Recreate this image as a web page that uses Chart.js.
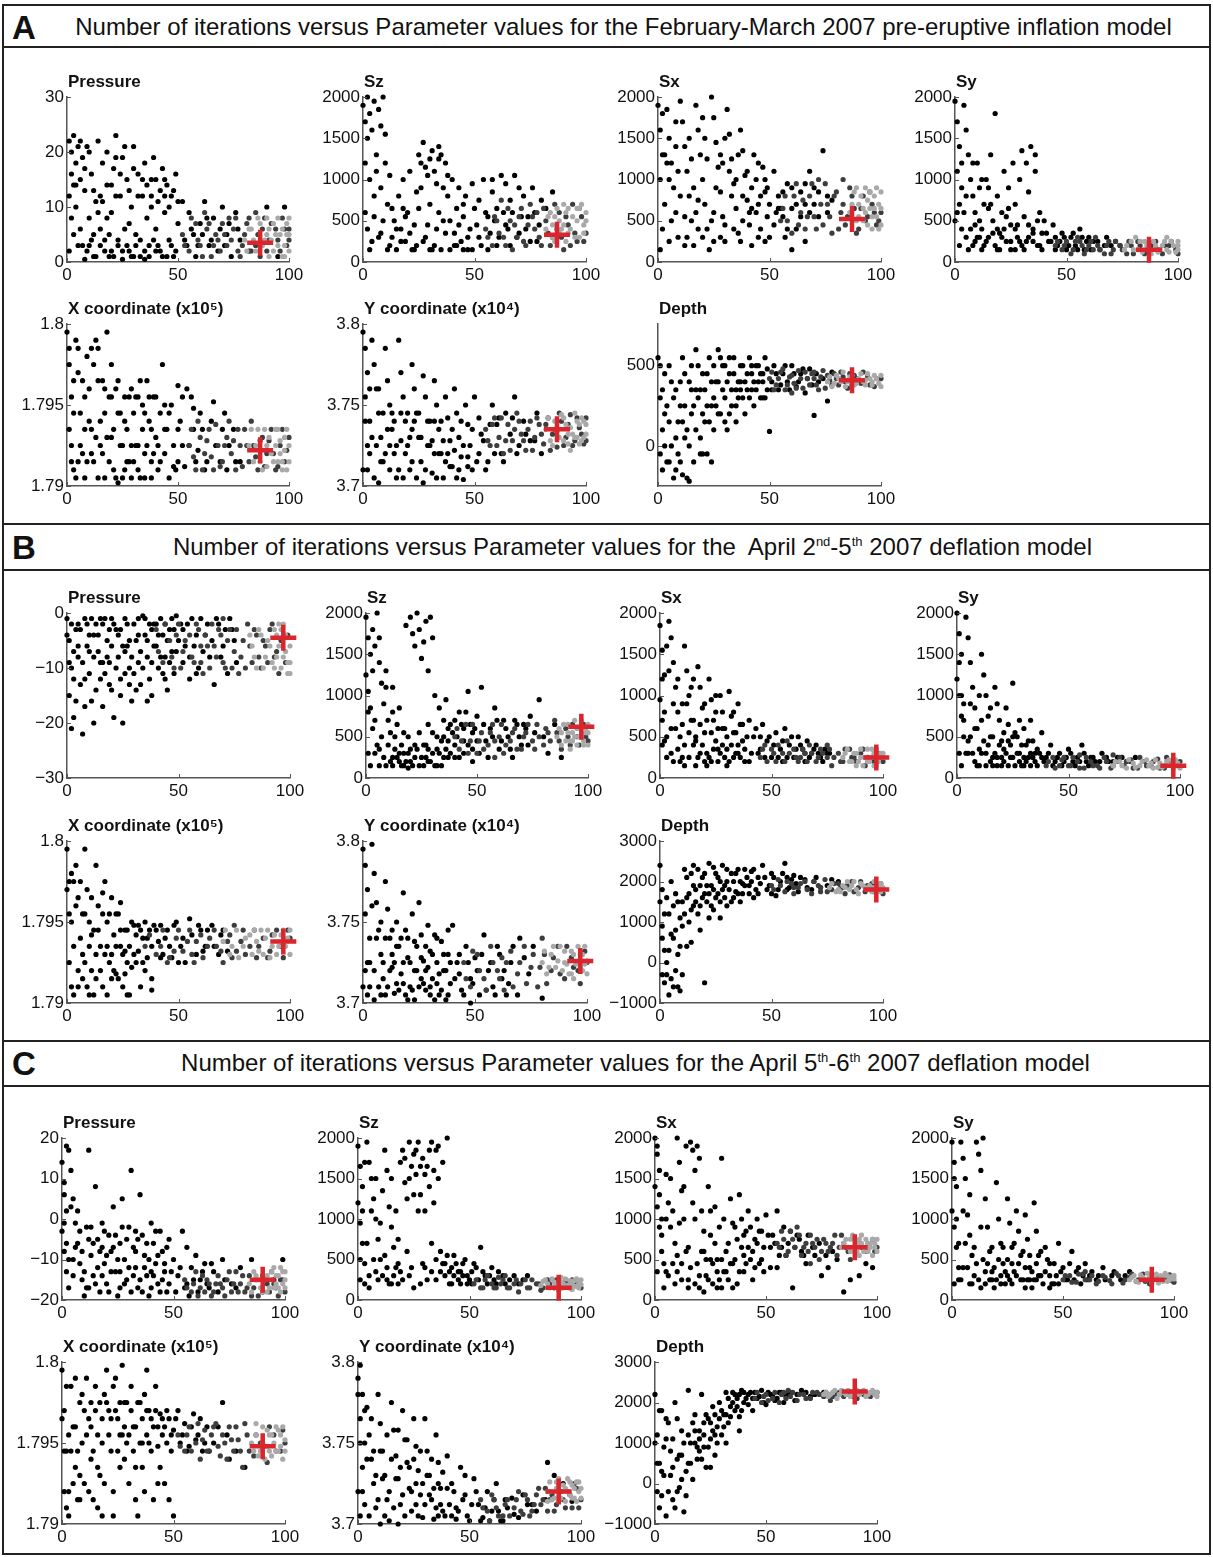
<!DOCTYPE html>
<html>
<head>
<meta charset="utf-8">
<title>Number of iterations versus Parameter values</title>
<script src="https://cdn.jsdelivr.net/npm/chart.js@4.4.1/dist/chart.umd.min.js"></script>
<style>
  body { margin: 0; background: #fff; font-family: "Liberation Sans", Arial, sans-serif; }
  #page { position: relative; width: 1213px; height: 1557px; overflow: hidden; background: #fff; }
  .frame { position: absolute; left: 2px; top: 4px; width: 1205px; height: 1547px; border: 2px solid #222; }
  .rule { position: absolute; left: 2px; width: 1209px; height: 2px; background: #222; }
  .head { position: absolute; width: 1213px; text-align: center; font-size: 24px; line-height: 28px; color: #111; white-space: nowrap; }
  .head sup { font-size: 13px; line-height: 0; }
  .letter { position: absolute; left: 12px; font-size: 33px; line-height: 36px; font-weight: bold; color: #111; }
  canvas { position: absolute; }
</style>
</head>
<body>
<div id="page">
  <div class="frame"></div>
  <div class="letter" style="top:10px">A</div>
  <div class="head" style="top:13px;left:17px">Number of iterations versus Parameter values for the February-March 2007 pre-eruptive inflation model</div>
  <div class="rule" style="top:46px"></div>
  <div class="rule" style="top:523px"></div>
  <div class="letter" style="top:530px">B</div>
  <div class="head" style="top:533px;left:26px">Number of iterations versus Parameter values for the&nbsp; April 2<sup>nd</sup>-5<sup>th</sup> 2007 deflation model</div>
  <div class="rule" style="top:569px"></div>
  <div class="rule" style="top:1040px"></div>
  <div class="letter" style="top:1046px">C</div>
  <div class="head" style="top:1049px;left:29px">Number of iterations versus Parameter values for the April 5<sup>th</sup>-6<sup>th</sup> 2007 deflation model</div>
  <div class="rule" style="top:1085px"></div>
</div>
<script>
// ---------- tick labels ----------
const iterTicks = [0, 50, 100];
const pressureTicksA = [0, 10, 20, 30];
const pressureTicksB = [-30, -20, -10, 0];
const pressureTicksC = [-20, -10, 0, 10, 20];
const stressTicks = [0, 500, 1000, 1500, 2000];
const xCoordTicks = [1.79, 1.795, 1.8];
const yCoordTicks = [3.7, 3.75, 3.8];
const depthTicksA = [0, 500];
const depthTicksBC = [-1000, 0, 1000, 2000, 3000];

// ---------- best fit (red cross), panel order: P, Sz, Sx, Sy, X, Y, Depth ----------
const aBest = [[87, 3.5], [87, 330], [87, 520], [87, 150], [87, 1.7922], [87, 3.735], [87, 410]];
const bBest = [[97, -4.5], [97, 620], [97, 250], [97, 150], [97, 1.7938], [97, 3.726], [97, 1800]];
const cBest = [[90, -15], [90, 150], [90, 650], [90, 250], [90, 1.7948], [90, 3.72], [90, 2270]];

// ---------- A : February-March 2007 (flat x,y pairs) ----------
const aPressureEarly = [1,22, 2,20, 3,23, 4,18, 5,21, 6,15, 1,12, 2,8, 3,5, 1,2, 4,10, 6,6, 7,19, 8,13, 9,21, 10,8, 10,3, 11,16, 12,1, 13,11, 14,22, 15,6, 16,18, 17,4, 18,14, 19,1, 20,9, 21,17, 22,23, 23,3, 24,12, 25,19, 26,6, 27,15, 28,2, 29,10, 30,21, 31,5, 32,16, 33,1, 34,12, 35,18, 36,8, 37,3, 38,15, 39,19, 40,6, 41,11, 42,2, 43,17, 44,9, 45,14, 46,4, 47,12, 48,1, 49,16, 50,7, 52,11, 54,3, 55,9, 57,5, 58,1, 60,7, 62,11, 64,3, 66,8, 68,2, 70,10, 72,5, 74,1, 76,9, 78,4, 82,2, 90,10, 95,1, 98,10, 8,0.5, 25,0.5, 35,0.5, 45,1, 18,8, 28,7, 12,5, 38,10, 3,14, 5,3, 15,12, 20,2, 30,1, 40,2, 44,15, 22,12,
  2,16, 4,14, 6,22, 8,17, 10,20, 12,13, 14,9, 16,11, 18,20, 20,14, 22,19, 24,16, 26,21, 28,13, 30,17, 32,12, 34,15, 36,14, 38,12, 40,15, 42,13, 44,12, 46,10, 48,13, 50,11, 7,3, 9,2, 11,4, 13,1, 15,3, 17,2, 19,5, 21,1, 23,4, 25,2, 27,3, 29,1, 31,3, 33,4, 35,2, 37,1, 39,4, 41,3, 43,1, 47,3, 49,2, 53,4, 56,6, 59,3, 61,5, 63,8, 65,4, 69,6, 71,3, 73,7, 77,6];
const aPressureMid = [52,5, 55,2, 58,7, 60,3, 63,6, 65,1, 67,5, 70,7, 72,3, 75,6, 77,2, 80,5, 82,8, 85,3, 88,6, 90,2, 92,7, 95,4, 97,8, 99,3, 62,9, 73,8, 85,9, 100,6, 68,4, 78,1,
  53,3, 56,8, 59,4, 61,1, 64,7, 66,3, 69,2, 71,5, 74,4, 76,8, 79,3, 81,7, 83,2, 86,5, 87,1, 89,8, 91,4, 94,6, 96,2, 98,6, 100,4];
const aPressureLate = [80,4, 83,6, 85,2, 87,7, 89,4, 91,6, 93,2, 95,8, 96,5, 98,3, 99,7, 100,2, 90,8, 94,5, 100,5, 97,1,
  81,2, 82,6, 84,4, 86,8, 88,3, 90,5, 92,4, 93,7, 95,3, 97,6, 99,5, 100,8, 91,1, 98,1];

const aSzEarly = [0,1900, 1,1700, 2,1500, 1,1200, 3,1800, 2,2000, 5,1950, 4,1600, 6,1300, 7,1850, 8,1650, 9,2000, 10,1550, 3,1000, 5,800, 1,600, 2,400, 4,250, 6,1100, 8,900, 10,1200, 11,700, 12,1050, 13,300, 14,500, 15,150, 16,800, 17,400, 18,1000, 19,250, 20,600, 21,1100, 22,150, 23,450, 24,850, 25,1300, 26,1200, 27,1450, 28,300, 29,1050, 30,700, 31,1350, 32,200, 33,950, 34,1400, 35,1300, 36,500, 37,1200, 38,800, 39,150, 40,1000, 41,350, 42,650, 43,900, 44,250, 45,550, 46,800, 47,150, 48,400, 49,950, 50,650, 52,300, 54,1000, 56,550, 58,850, 60,200, 62,1050, 64,450, 66,750, 68,1050, 70,350, 72,800, 74,550, 76,900, 78,250, 80,750, 82,650, 85,850, 60,650, 45,150, 30,150, 12,200, 18,650, 36,900, 52,750, 66,200, 56,150, 8,350, 24,200, 34,600, 42,200,
  3,150, 5,550, 7,300, 9,500, 11,150, 13,650, 15,400, 17,250, 19,550, 21,350, 23,150, 25,650, 27,250, 29,450, 31,150, 33,400, 35,150, 37,350, 39,500, 41,200, 43,450, 45,700, 47,300, 49,150, 51,450, 53,200, 55,600, 57,350, 59,500, 61,300, 63,600, 65,400, 67,600, 69,300, 71,550, 73,400, 75,250, 77,600, 79,450, 26,900, 32,1100, 38,1050, 28,1150, 30,1250, 34,1250, 58,1000, 64,950, 70,900];
const aSzMid = [55,400, 58,200, 60,500, 63,300, 65,650, 67,150, 70,550, 72,250, 75,700, 77,400, 80,200, 82,500, 85,300, 88,600, 90,150, 92,450, 94,700, 96,250, 98,550, 100,350, 86,700, 74,450, 62,750, 78,600, 93,200,
  56,300, 59,550, 61,350, 64,200, 66,500, 69,300, 71,650, 73,200, 76,550, 79,300, 81,650, 84,200, 87,400, 89,300, 91,550, 95,350, 97,650, 99,250, 83,350, 68,450];
const aSzLate = [82,400, 84,600, 86,250, 88,500, 90,700, 92,350, 94,550, 96,650, 97,300, 99,450, 100,600, 85,450, 91,250, 98,700, 89,400,
  83,550, 85,300, 87,650, 88,350, 90,450, 91,600, 93,400, 95,300, 96,500, 97,650, 99,350, 100,500, 86,550, 92,650];

const aSxEarly = [0,1900, 1,1600, 2,1300, 1,1000, 3,700, 2,400, 1,150, 4,1850, 5,1500, 6,1200, 7,900, 8,600, 9,300, 10,1950, 11,1700, 12,1400, 13,1100, 14,800, 15,500, 16,200, 17,1900, 18,1600, 19,1300, 20,1000, 21,700, 22,400, 23,150, 24,2000, 25,1750, 26,1450, 27,1150, 28,850, 29,550, 30,250, 31,1850, 32,1550, 33,1250, 34,950, 35,650, 36,350, 37,1600, 38,1350, 39,1050, 40,750, 41,450, 42,200, 43,1300, 44,1000, 45,700, 46,400, 47,1150, 48,850, 49,550, 50,300, 52,1100, 54,800, 56,550, 58,950, 60,650, 62,400, 64,850, 66,700, 68,1100, 70,900, 72,550, 74,1350, 76,800, 66,250, 60,150, 5,1000, 15,1250, 25,600, 35,1000, 45,1200, 55,650, 3,1300, 12,550, 20,300, 28,1300, 38,500, 48,250, 8,1700, 18,750, 30,450, 42,650,
  2,1800, 4,1200, 6,500, 8,1400, 10,800, 12,200, 14,1500, 16,900, 18,400, 20,1750, 22,1250, 24,500, 26,900, 28,300, 30,1500, 32,1100, 34,400, 36,1300, 38,800, 40,1100, 42,900, 44,600, 46,800, 48,1000, 50,700, 52,450, 54,650, 56,850, 58,400, 60,900, 62,700, 64,550, 66,950, 68,600, 70,700, 72,850, 76,600, 78,750, 5,250, 9,1100, 13,300, 17,600, 21,1500, 25,250, 29,1200, 33,800, 37,250, 41,600, 45,300, 49,900, 53,600, 57,300];
const aSxMid = [55,500, 57,800, 60,350, 62,950, 64,600, 66,400, 68,800, 70,550, 72,1000, 74,450, 76,700, 78,350, 80,850, 82,600, 84,450, 86,900, 88,650, 90,400, 92,800, 94,550, 96,700, 98,450, 100,600, 75,950, 83,1000,
  56,650, 58,500, 61,800, 63,450, 65,750, 67,550, 69,950, 71,400, 73,700, 77,550, 79,800, 81,400, 83,700, 85,550, 87,800, 89,350, 91,650, 93,500, 95,850, 97,600, 99,500];
const aSxLate = [86,600, 88,850, 90,700, 92,500, 93,900, 95,650, 96,400, 97,800, 98,550, 99,700, 100,450, 89,500, 94,750, 100,850,
  87,700, 89,900, 90,550, 91,800, 92,650, 94,450, 95,850, 96,550, 97,650, 98,900, 99,400, 100,650, 93,600];

const aSyEarly = [0,1950, 1,1700, 2,1400, 1,1100, 3,900, 2,700, 0,500, 4,1900, 5,1600, 6,1300, 7,1000, 8,800, 9,600, 10,1200, 11,900, 12,400, 13,700, 14,1000, 15,300, 16,1300, 17,500, 18,1800, 19,800, 20,350, 21,600, 22,1100, 23,250, 24,900, 25,450, 26,1200, 27,700, 28,300, 29,1000, 30,1350, 31,550, 32,250, 33,850, 34,1400, 35,400, 36,1100, 37,200, 38,600, 39,350, 40,500, 42,250, 44,450, 46,200, 48,350, 50,150, 52,300, 54,200, 56,400, 58,150, 60,300, 62,250, 65,150, 68,300, 72,250, 5,300, 8,200, 12,150, 18,200, 22,400, 27,150, 33,300, 38,200, 3,400, 10,300, 15,650, 20,150, 25,250, 30,200, 35,250, 45,300, 2,200, 6,150, 9,450, 14,250, 28,450,
  1,600, 3,1200, 5,800, 7,400, 9,250, 11,500, 13,200, 15,900, 17,350, 19,150, 21,300, 23,550, 25,150, 27,400, 29,250, 31,150, 33,450, 35,350, 37,500, 39,150, 41,350, 43,250, 45,150, 47,250, 49,300, 51,200, 53,350, 55,150, 57,300, 59,250, 61,150, 64,250, 67,200, 70,200, 74,200, 4,600, 8,1200, 12,1000, 16,700, 24,650, 32,1200, 36,1300, 11,300, 19,400];
const aSyMid = [45,200, 48,150, 50,250, 53,150, 56,250, 58,100, 60,200, 63,300, 65,150, 68,200, 70,100, 72,250, 75,150, 78,250, 80,100, 83,200, 86,150, 90,250, 93,100, 96,200, 99,150, 55,300, 62,150,
  46,250, 49,200, 52,100, 54,250, 57,200, 59,150, 61,250, 64,200, 67,100, 69,250, 71,150, 74,200, 77,100, 79,200, 82,250, 85,100, 88,200, 91,150, 94,200, 97,250, 100,100];
const aSyLate = [76,150, 79,250, 82,150, 85,250, 88,100, 90,200, 92,150, 94,250, 96,120, 98,200, 100,150, 81,300, 95,300, 100,250,
  77,200, 80,150, 83,250, 84,120, 86,200, 87,150, 89,250, 91,120, 93,200, 95,150, 97,250, 99,120, 100,200];

const aXEarly = [0,1.7995, 1,1.7975, 2,1.7955, 1,1.7935, 3,1.791, 2,1.7925, 4,1.799, 5,1.797, 6,1.7945, 7,1.792, 8,1.7905, 9,1.798, 10,1.796, 11,1.7935, 12,1.7915, 13,1.799, 14,1.7965, 15,1.794, 16,1.792, 17,1.7905, 18,1.7995, 19,1.7955, 20,1.793, 21,1.791, 22,1.796, 23,1.7945, 24,1.7925, 25,1.7905, 26,1.7955, 27,1.7935, 28,1.7915, 29,1.796, 30,1.7945, 31,1.7925, 32,1.791, 33,1.7965, 34,1.7935, 35,1.792, 36,1.7965, 37,1.794, 38,1.7915, 39,1.7955, 40,1.793, 41,1.791, 42,1.7945, 43,1.7975, 44,1.792, 45,1.7935, 46,1.7905, 47,1.795, 48,1.7925, 49,1.791, 50,1.7962, 51,1.794, 52,1.7925, 54,1.796, 56,1.7955, 57,1.7935, 58,1.7915, 60,1.7945, 62,1.791, 65,1.794, 67,1.7925, 70,1.7935, 72,1.791, 75,1.7935, 78,1.7915, 3,1.7965, 8,1.7935, 14,1.7905, 20,1.7975, 26,1.791, 32,1.7955, 38,1.7905, 44,1.795, 50,1.7915, 5,1.7915, 11,1.7985, 17,1.7945, 23,1.7902, 29,1.7925, 35,1.7945, 41,1.7925,
  1,1.7985, 2,1.7915, 3,1.7945, 4,1.7905, 5,1.7985, 6,1.7925, 7,1.7965, 8,1.7955, 9,1.7915, 10,1.794, 11,1.792, 12,1.7975, 13,1.793, 14,1.7985, 15,1.7925, 16,1.7965, 17,1.796, 18,1.793, 19,1.7915, 20,1.7955, 21,1.7935, 22,1.7905, 23,1.7965, 24,1.7945, 25,1.7925, 26,1.794, 27,1.7915, 28,1.7955, 29,1.7905, 30,1.7915, 31,1.7955, 32,1.7925, 33,1.7905, 34,1.795, 35,1.7905, 36,1.7925, 37,1.7955, 38,1.7935, 39,1.792, 40,1.7955, 42,1.7915, 44,1.7935, 46,1.7945, 48,1.7912, 50,1.7935, 52,1.7955, 53,1.7912, 55,1.7925, 57,1.7948, 59,1.7922, 61,1.7935, 63,1.7915, 66,1.7952, 69,1.7915, 71,1.7945, 73,1.7925, 76,1.7915];
const aXMid = [55,1.7925, 58,1.791, 60,1.793, 62,1.792, 64,1.7935, 66,1.791, 68,1.7925, 70,1.7915, 72,1.793, 74,1.792, 76,1.791, 78,1.7925, 80,1.7935, 82,1.7915, 84,1.7925, 86,1.791, 88,1.793, 90,1.792, 92,1.7935, 94,1.791, 96,1.7925, 98,1.7915, 100,1.793, 65,1.7918, 75,1.7928,
  56,1.7935, 57,1.7918, 59,1.794, 61,1.791, 63,1.7928, 67,1.7938, 69,1.7912, 71,1.7925, 73,1.794, 77,1.7935, 79,1.7912, 81,1.7925, 83,1.794, 85,1.7918, 87,1.7928, 89,1.7912, 91,1.7928, 93,1.792, 95,1.7912, 97,1.7935, 99,1.7922];
const aXLate = [82,1.7925, 84,1.7915, 86,1.7935, 88,1.791, 90,1.7925, 91,1.793, 93,1.7915, 95,1.7935, 96,1.792, 98,1.793, 99,1.791, 100,1.7925, 94,1.7925, 97,1.7915,
  83,1.7935, 85,1.7925, 87,1.7915, 89,1.7935, 90,1.7912, 92,1.792, 94,1.7935, 95,1.7915, 96,1.7928, 97,1.791, 98,1.7922, 99,1.7935, 100,1.7915];

const aYEarly = [0,3.795, 1,3.785, 2,3.77, 1,3.755, 3,3.74, 2,3.725, 0,3.71, 4,3.79, 5,3.775, 6,3.76, 7,3.745, 8,3.73, 9,3.715, 10,3.785, 11,3.765, 12,3.75, 13,3.735, 14,3.72, 15,3.705, 16,3.79, 17,3.77, 18,3.755, 19,3.74, 20,3.725, 21,3.71, 22,3.775, 23,3.76, 24,3.745, 25,3.73, 26,3.715, 27,3.768, 28,3.755, 29,3.74, 30,3.725, 31,3.708, 32,3.765, 33,3.75, 34,3.735, 35,3.72, 36,3.705, 37,3.755, 38,3.742, 39,3.728, 40,3.712, 41,3.76, 42,3.745, 43,3.73, 44,3.718, 45,3.704, 46,3.75, 47,3.738, 48,3.725, 49,3.71, 50,3.755, 52,3.742, 54,3.728, 56,3.715, 58,3.75, 60,3.738, 62,3.72, 64,3.745, 66,3.732, 68,3.755, 70,3.725, 72,3.74, 75,3.728, 78,3.745, 80,3.72, 3,3.76, 12,3.71, 22,3.735, 32,3.72, 42,3.705, 52,3.72, 7,3.702, 17,3.728, 27,3.702, 37,3.715, 47,3.718,
  1,3.74, 2,3.71, 3,3.72, 4,3.73, 5,3.705, 6,3.725, 7,3.76, 8,3.715, 9,3.745, 10,3.72, 11,3.735, 12,3.725, 13,3.745, 14,3.74, 15,3.725, 16,3.71, 17,3.745, 18,3.705, 19,3.72, 20,3.745, 21,3.73, 22,3.715, 23,3.74, 24,3.705, 25,3.745, 26,3.73, 28,3.71, 29,3.725, 30,3.74, 31,3.728, 32,3.74, 33,3.705, 34,3.72, 35,3.74, 36,3.728, 38,3.72, 39,3.712, 40,3.735, 41,3.722, 43,3.71, 44,3.74, 45,3.725, 47,3.712, 49,3.735, 51,3.715, 53,3.732, 55,3.71, 57,3.738, 59,3.72, 61,3.742, 63,3.715, 67,3.742, 69,3.72, 73,3.732, 77,3.728];
const aYMid = [55,3.735, 57,3.725, 59,3.742, 61,3.73, 63,3.72, 65,3.738, 67,3.728, 69,3.745, 71,3.732, 73,3.722, 75,3.74, 77,3.73, 79,3.738, 81,3.726, 83,3.742, 85,3.732, 87,3.724, 89,3.74, 91,3.73, 93,3.744, 95,3.728, 97,3.736, 99,3.726, 100,3.742,
  56,3.728, 58,3.738, 60,3.725, 62,3.742, 64,3.728, 66,3.722, 68,3.735, 70,3.74, 72,3.728, 74,3.735, 76,3.722, 78,3.742, 80,3.732, 82,3.738, 84,3.722, 86,3.735, 88,3.745, 90,3.725, 92,3.738, 94,3.725, 96,3.742, 98,3.732, 100,3.728];
const aYLate = [82,3.735, 84,3.728, 86,3.74, 88,3.73, 90,3.742, 92,3.726, 93,3.736, 95,3.745, 96,3.73, 97,3.738, 98,3.728, 99,3.74, 100,3.732, 94,3.732,
  83,3.742, 85,3.725, 87,3.734, 89,3.744, 90,3.728, 91,3.738, 92,3.732, 93,3.722, 95,3.73, 96,3.74, 97,3.726, 98,3.742, 99,3.73, 100,3.738];

const aDepthEarly = [0,550, 1,300, 2,100, 1,-50, 3,450, 2,-150, 4,250, 5,500, 6,0, 7,-200, 8,350, 9,150, 10,-100, 11,550, 12,50, 13,-200, 14,400, 15,200, 16,-100, 17,600, 18,300, 19,50, 20,450, 21,150, 22,-50, 23,550, 24,250, 25,100, 26,400, 27,600, 28,200, 29,500, 30,300, 31,100, 32,450, 33,350, 34,550, 35,250, 36,400, 37,500, 38,300, 39,200, 40,450, 41,550, 42,350, 43,250, 44,500, 45,400, 46,300, 47,450, 48,550, 49,350, 50,90, 51,400, 52,500, 54,350, 56,450, 58,400, 60,500, 62,370, 64,450, 66,330, 68,480, 70,190, 72,400, 76,280, 78,460, 3,0, 8,-150, 12,250, 17,350, 22,250, 27,400, 32,200, 37,350, 42,450, 47,300, 5,-100, 10,400, 15,500, 20,-50, 25,300, 30,500, 35,150, 11,-180, 14,-220, 24,-100, 19,350,
  1,500, 2,350, 3,200, 4,-100, 5,150, 6,400, 7,300, 8,50, 9,-50, 10,250, 11,150, 12,450, 13,100, 14,0, 15,350, 16,250, 17,100, 18,500, 19,-50, 20,200, 21,350, 22,450, 23,150, 24,400, 25,500, 26,250, 27,200, 28,550, 29,350, 30,150, 31,400, 32,550, 33,250, 34,450, 35,350, 36,300, 37,400, 38,500, 39,400, 40,350, 41,300, 42,500, 43,400, 44,350, 45,500, 46,450, 47,400, 48,300, 49,480, 51,350, 53,450, 55,380, 57,500, 59,350, 61,450, 63,400, 65,480, 67,420, 69,380, 71,450, 74,420];
const aDepthMid = [50,420, 53,380, 55,460, 57,350, 59,430, 61,390, 63,470, 65,360, 67,420, 69,450, 71,380, 73,430, 75,360, 77,410, 79,450, 81,380, 83,430, 85,360, 88,440, 91,390, 94,430, 97,370, 100,420, 60,330, 70,460,
  51,460, 52,350, 54,420, 56,480, 58,380, 60,440, 62,360, 64,420, 66,460, 68,380, 70,420, 72,350, 74,470, 76,440, 78,380, 80,420, 82,460, 84,400, 86,450, 87,380, 89,420, 92,460, 95,380, 98,420];
const aDepthLate = [76,400, 78,370, 80,440, 82,400, 84,370, 86,430, 89,390, 91,450, 93,380, 95,420, 97,440, 99,390, 100,370, 96,400,
  77,430, 79,390, 81,420, 83,460, 85,400, 87,440, 88,380, 90,420, 92,400, 94,450, 96,380, 98,420, 100,440, 93,410];

// ---------- B : April 2nd-5th 2007 ----------
const bPressureEarly = [0,-1, 1,-5, 2,-10, 1,-15, 3,-19, 2,-21, 4,-3, 5,-8, 6,-13, 7,-22, 8,-1, 9,-6, 10,-11, 11,-16, 12,-20, 13,-2, 14,-7, 15,-12, 16,-17, 17,-1, 18,-5, 19,-9, 20,-14, 21,-19, 22,-3, 23,-8, 24,-12, 25,-20, 26,-1, 27,-6, 28,-10, 29,-16, 30,-2, 31,-5, 32,-9, 33,-13, 34,-0.5, 35,-4, 36,-8, 37,-12, 38,-15, 39,-2, 40,-6, 41,-10, 42,-1, 43,-4, 44,-8, 45,-14, 46,-3, 47,-7, 48,-11, 49,-0.5, 50,-5, 52,-9, 54,-2, 55,-12, 57,-6, 59,-10, 60,-1, 62,-4, 64,-8, 66,-13, 68,-2, 70,-6, 72,-11, 74,-3, 76,-9, 3,-7, 8,-17, 12,-4, 16,-9, 20,-1, 24,-3, 28,-13, 32,-1, 36,-16, 44,-12, 52,-3, 58,-11, 5,-2, 10,-4, 15,-1, 19,-3, 26,-7, 38,-3,
  0,-4, 1,-9, 2,-2, 3,-12, 4,-16, 5,-6, 6,-3, 7,-9, 8,-12, 9,-2, 10,-7, 11,-1, 12,-8, 13,-14, 14,-4, 15,-9, 16,-2, 17,-11, 18,-8, 19,-13, 20,-6, 21,-2, 22,-10, 23,-4, 24,-15, 25,-6, 26,-11, 27,-2, 28,-5, 29,-8, 30,-11, 31,-14, 32,-4, 33,-7, 34,-10, 35,-1, 36,-5, 37,-2, 38,-9, 39,-6, 40,-2, 41,-4, 42,-8, 43,-11, 44,-2, 45,-5, 46,-9, 47,-1, 48,-3, 49,-7, 51,-2, 53,-6, 55,-8, 56,-1, 58,-4, 61,-7, 63,-2, 65,-5, 67,-1, 69,-8, 71,-3, 73,-1, 75,-5];
const bPressureMid = [40,-3, 43,-9, 46,-5, 48,-10, 50,-2, 52,-7, 55,-4, 57,-9, 59,-3, 61,-11, 63,-6, 65,-2, 67,-8, 69,-4, 71,-10, 73,-3, 75,-7, 77,-11, 79,-5, 81,-2, 83,-9, 85,-4, 87,-10, 89,-6, 91,-3, 93,-8, 95,-11, 98,-9, 60,-6, 70,-1,
  41,-7, 44,-2, 47,-8, 49,-4, 51,-10, 53,-5, 56,-8, 58,-2, 60,-9, 62,-4, 64,-10, 66,-6, 68,-3, 70,-9, 72,-5, 74,-10, 76,-3, 78,-8, 80,-10, 82,-6, 84,-3, 86,-8, 88,-5, 90,-9, 92,-2, 94,-7, 96,-5, 99,-4];
const bPressureLate = [82,-4, 84,-8, 86,-3, 88,-10, 90,-5, 92,-9, 93,-3, 95,-6, 96,-10, 97,-2, 98,-7, 99,-11, 100,-9, 94,-4,
  83,-6, 85,-10, 87,-4, 89,-8, 91,-6, 93,-10, 94,-8, 96,-3, 97,-8, 98,-4, 99,-9, 100,-6, 100,-11, 95,-2];

const bSzEarly = [0,1950, 1,1700, 2,1500, 0,1250, 1,1050, 2,850, 3,1800, 4,1600, 3,600, 5,2000, 6,1400, 7,1150, 8,900, 5,400, 9,1300, 10,700, 11,200, 12,1100, 13,500, 14,250, 15,850, 16,150, 17,550, 18,1850, 19,300, 20,1950, 21,1750, 22,1600, 23,2000, 24,1800, 25,1450, 26,1650, 27,1900, 28,1300, 29,1950, 30,1700, 31,1000, 24,150, 26,400, 28,200, 30,550, 32,350, 33,850, 34,150, 35,500, 36,950, 37,250, 38,650, 40,400, 42,800, 44,300, 46,1050, 48,550, 50,750, 52,1100, 54,450, 56,600, 58,850, 60,350, 62,700, 64,500, 66,250, 68,650, 70,400, 72,600, 74,750, 78,950, 80,500, 82,300, 85,650, 88,250, 9,150, 15,300, 20,200, 22,400, 28,650, 32,150, 35,250, 40,250, 44,600, 48,200, 6,350, 12,250, 17,150, 1,300, 2,150, 4,700, 19,120, 27,250, 37,450,
  4,300, 6,150, 7,500, 8,250, 10,400, 11,550, 12,150, 13,350, 14,650, 15,200, 16,400, 17,300, 18,200, 19,500, 20,350, 21,150, 22,250, 23,350, 24,550, 25,250, 26,150, 27,400, 28,350, 29,200, 30,300, 31,150, 32,500, 33,300, 34,450, 35,700, 36,350, 37,600, 38,300, 39,550, 40,700, 41,500, 42,250, 43,650, 44,450, 45,800, 46,400, 47,650, 48,350, 49,600, 50,450, 51,300, 53,650, 55,250, 57,500, 59,700, 61,450, 63,600, 65,350, 67,700, 69,500, 71,650, 73,400, 76,550, 1,800, 3,1300, 6,1700, 9,1100, 12,800];
const bSzMid = [40,500, 42,350, 45,650, 47,450, 50,300, 52,550, 55,400, 57,650, 60,500, 62,300, 65,450, 67,600, 70,350, 72,550, 75,450, 77,650, 80,400, 82,550, 85,700, 87,450, 90,600, 92,400, 95,500, 98,650, 100,450, 58,250,
  41,600, 43,450, 46,300, 48,650, 51,450, 53,350, 56,550, 58,450, 61,650, 63,400, 66,550, 68,350, 71,500, 73,650, 76,350, 78,500, 81,600, 83,450, 86,550, 88,350, 91,500, 93,650, 96,400, 99,500];
const bSzLate = [86,500, 88,400, 89,650, 91,550, 92,450, 94,700, 95,400, 96,600, 97,500, 98,450, 99,600, 100,400, 93,550, 100,550,
  87,600, 88,550, 90,450, 91,650, 92,350, 93,450, 95,600, 96,500, 97,700, 98,400, 99,550, 100,650, 94,500];

const bSxEarly = [0,1850, 1,1550, 2,1250, 0,950, 1,700, 2,450, 3,250, 4,1900, 5,1700, 6,1400, 7,1100, 8,800, 9,500, 10,250, 11,1600, 12,1300, 13,1000, 14,700, 15,400, 16,150, 17,1350, 18,1100, 19,850, 20,550, 21,300, 22,1200, 23,950, 24,700, 25,450, 26,200, 27,1000, 28,800, 29,600, 30,350, 31,1050, 32,750, 33,550, 34,300, 35,900, 36,650, 37,450, 38,200, 40,700, 42,500, 44,300, 46,650, 48,450, 50,250, 52,550, 54,350, 56,600, 58,400, 60,250, 62,500, 64,350, 66,450, 68,300, 70,400, 72,250, 74,350, 76,300, 5,600, 10,900, 15,1200, 20,200, 25,800, 30,150, 35,300, 40,200, 45,500, 55,200, 65,200, 3,1600, 8,350, 13,550, 18,300, 23,200, 28,400, 33,250, 1,400, 6,200, 11,150, 16,450, 21,150, 26,350,
  1,1200, 2,800, 3,500, 4,1300, 5,300, 6,900, 7,600, 8,1200, 9,200, 10,650, 11,400, 12,900, 13,250, 14,1100, 15,700, 16,500, 17,250, 18,650, 19,400, 20,900, 21,700, 22,250, 23,550, 24,350, 25,1000, 26,600, 27,300, 28,600, 29,250, 30,500, 31,200, 32,400, 33,800, 34,550, 35,400, 36,250, 37,650, 38,350, 39,500, 41,300, 43,600, 45,350, 47,250, 49,500, 51,400, 53,250, 55,450, 57,250, 59,500, 61,350, 63,400, 65,300, 67,250, 69,350, 71,300, 73,200, 75,300];
const bSxMid = [45,250, 47,400, 50,350, 52,200, 55,300, 57,450, 60,350, 62,200, 65,300, 67,400, 70,200, 72,350, 75,250, 77,150, 80,300, 82,200, 85,350, 87,250, 90,300, 92,150, 95,250, 98,300, 100,200, 63,250, 75,400,
  46,350, 48,200, 51,300, 53,400, 56,200, 58,300, 61,250, 64,350, 66,200, 68,300, 71,250, 73,300, 76,350, 78,250, 81,200, 83,350, 86,250, 88,200, 91,350, 93,250, 96,200, 99,250];
const bSxLate = [82,250, 84,350, 86,200, 88,300, 90,250, 91,150, 93,350, 94,200, 96,300, 97,150, 98,250, 100,300, 89,200, 95,350,
  83,300, 85,200, 87,300, 88,150, 90,350, 92,250, 93,200, 95,250, 96,150, 97,350, 98,200, 99,300, 100,250];

const bSyEarly = [0,2000, 1,1750, 2,1500, 0,1200, 1,1000, 2,750, 3,500, 1,300, 4,1950, 5,1700, 6,1400, 7,1100, 8,850, 9,600, 10,350, 11,1500, 12,1250, 13,1000, 14,750, 15,500, 16,250, 17,1100, 18,900, 19,700, 20,450, 21,200, 22,850, 23,650, 24,400, 25,1150, 26,550, 27,300, 28,700, 29,150, 30,600, 31,400, 32,250, 33,700, 34,450, 35,200, 36,350, 38,550, 40,250, 42,400, 44,200, 46,300, 48,200, 50,350, 52,200, 54,250, 56,400, 58,200, 60,250, 62,200, 65,300, 68,200, 72,250, 76,200, 80,250, 5,300, 10,150, 15,200, 20,150, 25,250, 30,150, 35,300, 3,900, 8,200, 13,300, 18,250, 23,150, 28,200, 33,150, 38,250, 2,150, 6,500, 11,300, 16,150, 21,350,
  1,1400, 2,1000, 3,700, 4,300, 5,450, 6,900, 7,300, 8,600, 9,150, 10,1000, 11,700, 12,450, 13,150, 14,400, 15,850, 16,500, 17,300, 18,150, 19,400, 20,250, 21,550, 22,300, 23,450, 24,250, 25,500, 26,150, 27,500, 28,300, 29,400, 30,250, 31,200, 32,450, 33,300, 34,250, 36,150, 37,300, 39,200, 41,300, 43,150, 45,250, 47,150, 49,250, 51,300, 53,150, 55,200, 57,300, 59,150, 61,250, 64,200, 67,250, 70,200, 74,250, 78,200];
const bSyMid = [40,150, 43,250, 46,150, 48,250, 51,150, 54,200, 57,120, 60,200, 63,150, 66,250, 69,120, 72,200, 75,150, 78,220, 81,120, 84,200, 87,150, 90,230, 93,120, 96,200, 99,150, 55,280, 70,280,
  41,200, 44,120, 47,220, 50,150, 52,250, 55,120, 58,250, 61,150, 64,120, 67,200, 70,150, 73,250, 76,200, 79,120, 82,250, 85,150, 88,200, 91,120, 94,250, 97,150, 100,200];
const bSyLate = [70,150, 73,200, 76,120, 79,180, 82,150, 85,220, 88,120, 91,180, 93,150, 95,220, 97,120, 99,180, 100,150, 90,130,
  71,200, 74,150, 77,220, 80,130, 83,200, 86,150, 89,220, 92,130, 94,200, 96,160, 98,220, 100,120, 87,180];

const bXEarly = [0,1.7995, 1,1.7975, 2,1.795, 1,1.7925, 3,1.7905, 2,1.791, 4,1.7985, 5,1.7965, 6,1.794, 7,1.7915, 8,1.7995, 9,1.797, 10,1.795, 11,1.792, 12,1.7905, 13,1.7985, 14,1.796, 15,1.7935, 16,1.791, 17,1.7975, 18,1.795, 19,1.7925, 20,1.7965, 21,1.7942, 22,1.7918, 23,1.7955, 24,1.7935, 25,1.791, 26,1.7945, 27,1.7925, 28,1.7905, 29,1.795, 30,1.793, 32,1.7948, 34,1.7925, 36,1.794, 38,1.7915, 40,1.7945, 42,1.7928, 44,1.794, 46,1.7935, 48,1.7948, 50,1.7925, 52,1.794, 55,1.7952, 58,1.793, 60,1.7945, 62,1.7935, 65,1.7948, 68,1.793, 70,1.7945, 3,1.7975, 8,1.7925, 13,1.7915, 18,1.7905, 22,1.7955, 27,1.7905, 33,1.791, 38,1.7908, 42,1.7948, 10,1.7905, 16,1.7968, 24,1.7962, 5,1.791, 7,1.7955, 11,1.7942, 20,1.7915, 26,1.7932, 31,1.7942, 35,1.792,
  0,1.797, 1,1.7955, 2,1.798, 3,1.7935, 4,1.796, 5,1.792, 6,1.7975, 7,1.793, 8,1.7955, 9,1.791, 10,1.7935, 11,1.7965, 12,1.7945, 13,1.793, 14,1.7945, 15,1.792, 16,1.7955, 17,1.793, 18,1.7935, 19,1.7955, 20,1.793, 21,1.792, 22,1.7935, 23,1.7915, 24,1.7945, 25,1.793, 26,1.7918, 27,1.7945, 28,1.7935, 29,1.7922, 30,1.7948, 31,1.7925, 32,1.7932, 33,1.7945, 34,1.794, 35,1.795, 36,1.7928, 37,1.7945, 38,1.7935, 39,1.7948, 41,1.7938, 43,1.793, 45,1.7945, 47,1.7928, 49,1.795, 51,1.7935, 53,1.7925, 56,1.7942, 59,1.7948, 61,1.7932, 63,1.7945, 66,1.7935, 69,1.7942, 72,1.7932];
const bXMid = [35,1.7935, 40,1.793, 43,1.7945, 46,1.7928, 49,1.794, 52,1.7932, 55,1.7945, 58,1.7938, 61,1.7928, 64,1.794, 67,1.7935, 70,1.7925, 73,1.7942, 76,1.7932, 79,1.7945, 82,1.7935, 85,1.7928, 88,1.794, 91,1.7932, 94,1.7945, 97,1.7928, 100,1.794, 57,1.7925, 75,1.7948,
  37,1.7942, 42,1.7935, 45,1.7925, 48,1.7932, 50,1.7945, 54,1.7938, 56,1.793, 60,1.7942, 63,1.7935, 66,1.7945, 69,1.7932, 72,1.7938, 74,1.7928, 78,1.7938, 80,1.793, 84,1.7945, 86,1.7935, 90,1.7928, 92,1.7942, 96,1.7935, 99,1.7945];
const bXLate = [70,1.7938, 73,1.793, 76,1.7945, 79,1.7935, 82,1.7942, 85,1.7938, 88,1.793, 90,1.7945, 92,1.7935, 94,1.793, 96,1.7942, 98,1.7935, 100,1.793, 87,1.7945,
  71,1.7945, 74,1.7935, 77,1.7928, 80,1.794, 83,1.793, 84,1.7945, 86,1.7932, 89,1.794, 91,1.7928, 93,1.7942, 95,1.7935, 97,1.7945, 99,1.794, 100,1.7945];

const bYEarly = [0,3.795, 1,3.785, 2,3.77, 1,3.755, 3,3.74, 2,3.725, 0,3.71, 4,3.798, 5,3.78, 6,3.762, 7,3.745, 8,3.73, 9,3.715, 10,3.775, 11,3.758, 12,3.74, 13,3.722, 14,3.706, 15,3.75, 16,3.735, 17,3.718, 18,3.768, 19,3.745, 20,3.728, 21,3.71, 22,3.755, 23,3.738, 24,3.72, 25,3.762, 26,3.742, 27,3.726, 28,3.708, 29,3.748, 30,3.732, 31,3.715, 32,3.742, 33,3.725, 34,3.705, 35,3.738, 36,3.72, 37,3.702, 38,3.73, 39,3.712, 40,3.748, 42,3.725, 44,3.708, 46,3.735, 48,3.715, 50,3.728, 52,3.705, 54,3.742, 56,3.72, 58,3.71, 60,3.735, 62,3.715, 64,3.705, 66,3.725, 70,3.74, 74,3.718, 3,3.71, 8,3.705, 13,3.73, 18,3.712, 23,3.702, 28,3.72, 33,3.712, 38,3.705, 43,3.718, 48,3.7, 5,3.72, 10,3.705, 15,3.712, 20,3.702, 26,3.715, 30,3.705,
  1,3.72, 2,3.705, 3,3.725, 4,3.76, 5,3.702, 6,3.74, 7,3.71, 8,3.75, 9,3.725, 10,3.74, 11,3.71, 12,3.72, 13,3.745, 14,3.725, 15,3.735, 16,3.708, 17,3.74, 18,3.725, 19,3.705, 20,3.74, 21,3.725, 22,3.708, 23,3.72, 24,3.735, 25,3.71, 26,3.728, 27,3.712, 28,3.735, 29,3.722, 30,3.71, 31,3.73, 32,3.702, 33,3.74, 34,3.718, 35,3.708, 36,3.73, 37,3.72, 38,3.745, 39,3.725, 41,3.715, 43,3.73, 45,3.705, 47,3.725, 49,3.712, 51,3.72, 53,3.73, 55,3.708, 57,3.725, 59,3.705, 61,3.73, 63,3.72, 65,3.712, 67,3.735, 69,3.705, 72,3.728, 76,3.735, 80,3.703];
const bYMid = [45,3.725, 48,3.71, 51,3.73, 54,3.715, 57,3.735, 60,3.72, 63,3.708, 66,3.732, 69,3.718, 72,3.735, 75,3.722, 78,3.71, 81,3.73, 84,3.72, 87,3.735, 90,3.715, 93,3.728, 96,3.72, 99,3.732, 62,3.728, 80,3.74,
  46,3.715, 49,3.732, 52,3.72, 55,3.708, 58,3.725, 61,3.715, 64,3.725, 67,3.71, 70,3.725, 73,3.712, 76,3.73, 79,3.722, 82,3.712, 85,3.728, 88,3.718, 91,3.735, 94,3.722, 97,3.712, 100,3.725];
const bYLate = [80,3.725, 82,3.718, 84,3.73, 86,3.722, 88,3.735, 90,3.725, 92,3.718, 93,3.732, 95,3.724, 97,3.73, 98,3.72, 99,3.735, 100,3.726, 94,3.715,
  81,3.732, 83,3.722, 85,3.735, 87,3.726, 89,3.72, 90,3.732, 91,3.724, 93,3.718, 94,3.73, 96,3.735, 97,3.722, 98,3.73, 99,3.724, 100,3.718];

const bDepthEarly = [0,2400, 1,1800, 2,1200, 1,600, 3,0, 2,-500, 4,-800, 5,2000, 6,1400, 7,800, 8,200, 9,-700, 10,-300, 11,2300, 12,1600, 13,1000, 14,500, 15,2400, 16,1800, 17,1200, 18,800, 19,2100, 20,-500, 21,1500, 22,2450, 23,1900, 24,1300, 25,2200, 26,1700, 27,1100, 28,2400, 29,1900, 30,1400, 32,2200, 34,1750, 36,1500, 38,2300, 40,1900, 42,1600, 44,2100, 46,2400, 48,1800, 50,2200, 52,1650, 54,2000, 56,2450, 58,1850, 60,2150, 62,1750, 65,2050, 68,1800, 70,2100, 75,1900, 80,2000, 3,1600, 5,700, 7,-200, 9,1100, 12,400, 15,1400, 18,1900, 22,1100, 27,2000, 33,1600, 37,1950, 44,1700, 50,1700, 57,2100, 1,-300, 4,300, 6,-600, 8,1500, 10,900, 14,2200, 20,1700, 24,2350, 30,2000, 35,2300, 41,2250,
  0,1500, 1,900, 2,300, 3,-300, 4,1200, 5,-400, 6,600, 7,1700, 8,-600, 9,400, 10,1500, 11,1200, 12,2100, 13,1700, 14,1300, 15,1900, 16,1500, 17,2300, 18,1400, 19,1600, 20,2200, 21,1900, 22,1700, 23,1400, 24,1800, 25,1600, 26,2100, 27,1500, 28,1800, 29,1600, 30,2300, 31,1800, 32,1500, 33,2000, 34,2200, 35,1700, 36,2000, 37,1700, 38,1900, 39,2100, 40,1700, 41,2000, 42,2300, 43,1800, 45,1950, 47,2100, 49,1900, 51,2100, 53,1800, 55,2200, 57,1800, 59,2050, 61,1950, 63,2100, 66,1850, 69,2000, 72,1850, 77,2050, 82,1850];
const bDepthMid = [50,1900, 53,2050, 56,1750, 59,1950, 62,1850, 65,2000, 68,1700, 71,1900, 74,2050, 77,1800, 80,1950, 83,1700, 86,2000, 89,1850, 92,1750, 95,1950, 98,1850, 100,1700, 60,1700, 72,1750,
  51,1800, 54,1900, 57,2000, 60,1850, 63,1950, 66,1800, 69,2000, 72,1850, 75,1750, 78,1950, 81,1850, 84,1900, 87,1750, 90,2000, 93,1900, 96,1750, 99,1950];
const bDepthLate = [76,1850, 79,1750, 82,1900, 85,1800, 87,2000, 89,1700, 91,1900, 93,1800, 95,1750, 96,2000, 98,1900, 100,1850, 84,2000, 99,1750,
  77,1950, 80,1800, 83,1850, 86,1900, 88,1800, 90,1950, 92,1850, 94,1900, 95,1850, 97,1800, 99,1950, 100,1800, 81,1750];

// ---------- C : April 5th-6th 2007 ----------
const cPressureEarly = [0,14, 1,9, 2,18, 3,17, 1,6, 2,2, 0,-3, 1,-8, 2,-13, 3,-17, 4,12, 5,5, 6,-1, 7,-6, 8,-11, 9,-15, 10,-19, 11,-2, 12,17, 13,-9, 14,-14, 15,8, 16,-5, 17,-18, 18,-1, 19,-11, 20,-16, 21,-4, 22,-8, 23,3, 24,-13, 25,-19, 26,-6, 27,5, 28,-10, 29,-15, 30,-2, 31,12, 32,-7, 33,-12, 34,-17, 35,6, 36,-4, 37,-9, 38,-14, 39,-19, 40,-1, 41,-6, 42,-11, 43,-16, 44,-3, 45,-8, 46,-13, 47,-18, 48,-5, 50,-10, 52,-14, 54,-3, 55,-17, 56,-7, 58,-12, 60,-9, 62,-15, 64,-11, 66,-17, 68,-13, 72,-10, 76,-16, 80,-12, 85,-10, 90,-18, 95,-15, 99,-10, 5,-10, 12,-17, 18,-7, 26,-17, 33,-3, 40,-13, 48,-16, 57,-19,
  1,-1, 2,-6, 3,-10, 4,3, 5,-14, 6,-7, 7,2, 8,-3, 9,-8, 10,-13, 11,-17, 12,-5, 13,-2, 14,-6, 15,-16, 16,-12, 17,-8, 18,-14, 19,-3, 20,-9, 21,-18, 22,-13, 23,-7, 24,-4, 25,-10, 26,-13, 27,-2, 28,-16, 29,-5, 30,-12, 31,-18, 32,-14, 33,-8, 34,-5, 35,-15, 36,-18, 37,-12, 38,-6, 39,-10, 40,-17, 41,-14, 42,-3, 43,-9, 44,-18, 45,-15, 46,-11, 47,-7, 49,-13, 51,-18, 53,-12, 56,-16, 59,-15, 61,-18, 63,-13, 65,-16, 67,-11, 70,-18, 73,-15, 78,-17];
const cPressureMid = [55,-15, 58,-18, 60,-13, 62,-17, 65,-15, 67,-19, 70,-14, 72,-17, 74,-15, 76,-18, 78,-13, 80,-16, 82,-18, 84,-14, 86,-17, 88,-19, 92,-16, 94,-13, 96,-17, 98,-15, 100,-18, 69,-16,
  56,-17, 59,-16, 61,-19, 63,-14, 64,-18, 66,-16, 68,-18, 71,-16, 73,-19, 75,-13, 77,-16, 79,-18, 81,-14, 83,-17, 85,-19, 87,-15, 90,-14, 93,-18, 95,-16, 97,-19, 99,-15];
const cPressureLate = [84,-16, 86,-13, 88,-15, 90,-18, 92,-14, 93,-17, 95,-12, 96,-16, 97,-14, 98,-18, 99,-13, 100,-15, 94,-15,
  85,-18, 87,-14, 89,-17, 91,-15, 92,-18, 94,-13, 95,-17, 96,-14, 97,-17, 98,-12, 99,-16, 100,-13, 100,-17];

const cSzEarly = [0,1900, 1,1650, 2,1400, 0,1200, 1,950, 2,700, 3,450, 1,250, 4,1950, 5,1700, 6,1500, 7,1250, 8,1000, 9,750, 10,500, 11,300, 12,1850, 13,1600, 14,1150, 15,900, 16,650, 17,400, 18,200, 19,1700, 20,1850, 21,1450, 22,1250, 23,1950, 24,1650, 25,1800, 26,1550, 27,1950, 28,1300, 29,1750, 30,1100, 31,1650, 32,1400, 33,1950, 34,1200, 35,1850, 36,1500, 38,1700, 40,2000, 37,600, 39,450, 41,350, 43,550, 45,250, 47,450, 49,300, 51,200, 53,400, 55,650, 57,300, 60,400, 62,200, 65,300, 68,250, 72,200, 76,300, 3,200, 8,350, 13,250, 18,450, 23,300, 28,200, 33,350, 5,150, 15,200, 25,150, 30,400, 35,250, 42,200, 46,350, 50,250,
  1,500, 2,1100, 3,1700, 4,700, 5,300, 6,1100, 7,500, 8,1500, 9,250, 10,950, 11,1350, 12,550, 13,400, 14,200, 15,1500, 16,300, 17,1100, 18,750, 19,350, 20,250, 21,1750, 22,600, 23,1500, 24,400, 25,1300, 26,1850, 27,1100, 28,1650, 29,450, 30,1550, 31,250, 32,1850, 33,700, 34,1600, 35,500, 36,1900, 37,350, 38,450, 39,300, 40,550, 41,200, 42,400, 43,300, 44,450, 45,350, 46,200, 47,300, 48,500, 49,200, 51,350, 52,450, 54,250, 56,350, 58,200, 59,300, 61,250, 63,350, 66,200, 70,300, 74,250];
const cSzMid = [52,200, 55,150, 57,250, 60,200, 62,150, 65,250, 67,150, 70,200, 72,100, 75,250, 77,150, 80,200, 82,120, 85,250, 88,150, 90,200, 93,250, 95,150, 98,200, 100,150, 63,280,
  53,250, 56,150, 58,300, 61,150, 64,200, 66,300, 68,150, 71,250, 73,200, 76,150, 78,250, 81,200, 83,150, 86,200, 89,250, 91,150, 94,200, 96,250, 99,200];
const cSzLate = [82,180, 84,250, 86,150, 88,220, 90,120, 92,200, 93,260, 95,180, 96,130, 97,240, 98,170, 99,210, 100,250, 91,280,
  83,230, 85,200, 87,260, 89,180, 91,220, 92,150, 94,180, 95,240, 96,200, 97,170, 98,260, 99,150, 100,190];

const cSxEarly = [0,2000, 1,1800, 2,1600, 0,1400, 1,1150, 2,900, 3,600, 1,350, 4,150, 5,1550, 6,1200, 7,900, 8,450, 9,200, 10,2000, 11,1700, 12,1350, 13,1000, 14,600, 15,250, 16,1950, 17,1850, 18,1600, 19,1900, 20,1750, 21,1100, 22,600, 23,300, 24,1400, 25,800, 26,200, 27,1150, 28,500, 29,250, 30,1750, 31,1000, 32,350, 33,700, 34,1250, 35,450, 36,900, 37,200, 38,1300, 39,650, 40,350, 41,850, 42,1100, 43,500, 44,250, 45,750, 46,1000, 47,450, 48,850, 49,650, 50,1050, 52,400, 53,800, 55,1100, 56,550, 58,900, 60,700, 62,150, 64,800, 66,600, 68,450, 72,550, 75,300, 78,400, 82,500, 85,100, 88,250, 92,300, 95,450, 98,400, 5,350, 10,550, 15,150, 20,300, 25,500, 30,150, 35,150, 40,550, 3,1000, 12,450, 18,200, 22,100, 28,150,
  1,1900, 2,1300, 3,800, 4,450, 5,1000, 6,300, 7,1500, 8,1100, 9,700, 10,350, 11,950, 12,250, 13,1400, 14,1900, 15,650, 16,400, 17,1200, 18,1000, 19,450, 20,150, 21,600, 22,850, 23,500, 24,250, 25,1100, 26,450, 27,700, 28,350, 29,900, 30,500, 31,350, 32,600, 33,250, 34,450, 35,950, 36,500, 37,750, 38,350, 39,1000, 40,800, 41,450, 42,650, 43,900, 44,600, 45,400, 46,700, 47,850, 48,500, 49,350, 51,800, 52,650, 54,700, 55,400, 57,650, 59,550, 61,850, 63,650, 65,750, 67,550, 69,800, 71,650, 74,700, 77,550, 80,600];
const cSxMid = [55,700, 57,850, 60,600, 62,750, 64,900, 66,550, 68,700, 70,800, 72,650, 74,500, 76,750, 78,600, 80,700, 82,550, 84,800, 86,650, 88,500, 92,700, 95,600, 98,750, 100,650, 70,450,
  56,650, 58,750, 59,550, 61,850, 63,650, 65,800, 67,650, 69,600, 71,700, 73,750, 75,600, 77,700, 79,650, 81,800, 83,650, 85,700, 87,600, 90,750, 93,650, 96,700, 99,600];
const cSxLate = [84,650, 86,750, 88,600, 89,800, 91,700, 92,550, 94,650, 95,750, 96,600, 97,700, 98,550, 99,650, 100,750, 93,800,
  85,700, 87,650, 88,750, 90,650, 91,600, 92,750, 93,700, 94,600, 96,700, 97,650, 98,750, 99,700, 100,600];

const cSyEarly = [0,1950, 1,1700, 2,1400, 0,1100, 1,900, 2,650, 3,400, 1,200, 4,1950, 5,1750, 6,1500, 7,1050, 8,800, 9,550, 10,300, 11,1950, 12,1800, 13,1600, 14,2000, 15,1250, 16,900, 17,600, 18,350, 19,150, 20,1450, 21,1000, 22,700, 23,450, 24,200, 25,1250, 26,950, 27,650, 28,350, 29,1100, 30,850, 31,550, 32,250, 33,1050, 34,750, 35,400, 36,150, 37,1200, 38,850, 39,550, 40,300, 42,650, 44,450, 46,200, 48,700, 50,400, 52,250, 54,600, 56,350, 58,200, 60,450, 62,300, 65,250, 68,400, 72,300, 76,250, 80,350, 3,250, 8,200, 13,150, 18,250, 22,300, 27,200, 33,150, 38,250, 44,150, 5,400, 15,350, 25,300, 35,250,
  1,1500, 2,1000, 3,700, 4,250, 5,1100, 6,700, 7,400, 8,1300, 9,200, 10,650, 11,450, 12,250, 13,900, 14,500, 15,200, 16,450, 17,250, 18,650, 19,400, 20,250, 21,500, 22,200, 23,650, 24,350, 25,500, 26,250, 27,450, 28,700, 29,300, 30,450, 31,250, 32,600, 33,400, 34,250, 35,550, 36,350, 37,250, 38,450, 39,300, 40,600, 41,200, 42,350, 43,500, 44,300, 45,200, 46,450, 47,300, 48,200, 49,350, 51,250, 53,450, 55,250, 57,400, 59,300, 61,250, 63,350, 66,300, 69,250, 73,350, 78,300];
const cSyMid = [50,250, 53,300, 56,220, 59,320, 62,250, 65,200, 68,300, 71,240, 74,330, 77,210, 80,280, 83,230, 86,320, 89,200, 92,290, 95,240, 98,310, 100,220, 60,350,
  51,300, 54,220, 57,320, 60,250, 63,300, 66,230, 69,280, 72,200, 75,300, 78,250, 81,320, 84,250, 87,230, 90,310, 93,250, 96,280, 99,240];
const cSyLate = [80,250, 82,300, 84,220, 86,280, 88,330, 90,240, 91,300, 93,210, 95,280, 96,330, 97,230, 99,290, 100,260, 94,250,
  81,280, 83,230, 85,310, 87,250, 89,280, 90,210, 92,320, 93,260, 94,300, 95,230, 97,300, 98,250, 100,300];

const cXEarly = [0,1.7995, 1,1.797, 2,1.7945, 1,1.792, 3,1.7905, 2,1.791, 4,1.7985, 5,1.796, 6,1.7935, 7,1.7915, 8,1.7975, 9,1.795, 10,1.7925, 11,1.799, 12,1.7965, 13,1.794, 14,1.7915, 15,1.7985, 16,1.7955, 17,1.793, 18,1.7905, 19,1.798, 20,1.7995, 21,1.797, 22,1.7945, 23,1.792, 24,1.799, 25,1.7965, 26,1.7935, 27,1.7998, 28,1.7975, 29,1.795, 30,1.7925, 31,1.7985, 32,1.796, 33,1.7935, 34,1.7905, 35,1.7975, 36,1.795, 37,1.792, 38,1.7995, 39,1.797, 40,1.7945, 41,1.7915, 42,1.7985, 43,1.796, 44,1.7935, 45,1.7965, 46,1.7925, 47,1.797, 48,1.7915, 49,1.7955, 50,1.7905, 51,1.7965, 53,1.795, 55,1.7962, 57,1.7948, 59,1.7968, 61,1.7955, 63,1.7945, 65,1.796, 68,1.795, 72,1.7975, 75,1.794, 78,1.7945, 82,1.7935, 3,1.7955, 8,1.793, 13,1.7975, 18,1.7965, 23,1.7905, 28,1.794, 33,1.7915, 38,1.7955, 43,1.7925, 6,1.799, 16,1.791, 26,1.7955, 36,1.7935,
  0,1.7965, 1,1.7945, 2,1.7985, 3,1.792, 4,1.7945, 5,1.7925, 6,1.796, 7,1.7945, 8,1.7915, 9,1.798, 10,1.797, 11,1.7955, 12,1.792, 13,1.796, 14,1.7945, 15,1.797, 16,1.7935, 17,1.7975, 18,1.795, 19,1.7925, 20,1.7975, 21,1.7955, 22,1.7965, 23,1.7985, 24,1.797, 25,1.7945, 26,1.7975, 27,1.7955, 28,1.796, 29,1.7975, 30,1.7955, 31,1.797, 32,1.7945, 33,1.796, 34,1.7975, 35,1.795, 36,1.7965, 37,1.798, 38,1.797, 39,1.795, 40,1.7965, 41,1.796, 42,1.797, 43,1.7948, 44,1.7968, 45,1.7955, 46,1.796, 47,1.795, 48,1.7965, 49,1.7945, 50,1.7958, 52,1.797, 54,1.7955, 56,1.7945, 58,1.796, 60,1.7952, 62,1.7965, 64,1.795, 66,1.7945, 70,1.796, 74,1.7955];
const cXMid = [52,1.7955, 55,1.7945, 57,1.796, 60,1.795, 62,1.794, 64,1.7958, 66,1.7945, 68,1.796, 70,1.7948, 72,1.7955, 74,1.794, 76,1.7952, 78,1.796, 80,1.7945, 83,1.7955, 86,1.7942, 89,1.795, 92,1.7938, 95,1.7955, 98,1.7945, 100,1.795, 81,1.7935,
  53,1.7948, 56,1.7955, 58,1.7945, 61,1.7962, 63,1.7952, 65,1.7945, 67,1.7955, 69,1.7962, 71,1.7942, 73,1.795, 75,1.796, 77,1.7945, 79,1.7952, 82,1.7962, 84,1.7945, 87,1.7955, 90,1.7948, 93,1.796, 96,1.7945, 99,1.7958];
const cXLate = [85,1.795, 87,1.7955, 88,1.7942, 90,1.796, 91,1.7948, 93,1.7955, 94,1.7942, 95,1.795, 96,1.796, 97,1.7945, 98,1.7955, 99,1.794, 100,1.7952, 92,1.7958,
  86,1.7945, 87,1.7962, 89,1.7945, 90,1.795, 91,1.794, 92,1.7948, 93,1.7945, 94,1.7955, 96,1.7945, 97,1.7958, 98,1.7948, 99,1.796, 100,1.7945];

const cYEarly = [1,3.798, 0,3.79, 2,3.78, 1,3.765, 3,3.75, 2,3.735, 0,3.72, 1,3.705, 4,3.772, 5,3.755, 6,3.74, 7,3.725, 8,3.71, 9,3.78, 10,3.762, 11,3.745, 12,3.73, 13,3.715, 14,3.702, 15,3.775, 16,3.758, 17,3.742, 18,3.728, 19,3.712, 20,3.77, 21,3.752, 22,3.738, 23,3.722, 24,3.708, 25,3.765, 26,3.748, 27,3.733, 28,3.718, 29,3.704, 30,3.765, 31,3.745, 32,3.73, 33,3.715, 34,3.703, 35,3.755, 36,3.738, 37,3.722, 38,3.708, 40,3.742, 42,3.725, 44,3.71, 46,3.735, 48,3.718, 50,3.702, 52,3.728, 54,3.712, 56,3.704, 58,3.72, 60,3.708, 62,3.725, 64,3.702, 66,3.715, 70,3.706, 74,3.718, 78,3.712, 85,3.738, 88,3.73, 92,3.725, 96,3.714, 3,3.712, 10,3.7, 18,3.7, 26,3.712, 36,3.705, 44,3.703, 48,3.73,
  0,3.78, 1,3.75, 2,3.72, 3,3.77, 4,3.74, 5,3.705, 6,3.765, 7,3.745, 8,3.73, 9,3.715, 10,3.745, 11,3.728, 12,3.705, 13,3.755, 14,3.72, 15,3.74, 16,3.71, 17,3.728, 18,3.758, 19,3.735, 20,3.718, 21,3.705, 22,3.752, 23,3.735, 24,3.72, 25,3.74, 26,3.725, 27,3.705, 28,3.745, 29,3.725, 30,3.712, 31,3.73, 32,3.718, 33,3.74, 34,3.722, 35,3.71, 36,3.725, 37,3.712, 38,3.732, 39,3.705, 40,3.722, 41,3.712, 42,3.705, 43,3.72, 45,3.708, 47,3.715, 49,3.705, 51,3.712, 53,3.72, 55,3.702, 57,3.71, 59,3.702, 61,3.715, 63,3.708, 65,3.702, 67,3.71, 69,3.716, 72,3.704, 76,3.712, 80,3.708, 84,3.715];
const cYMid = [55,3.715, 58,3.708, 60,3.718, 62,3.71, 65,3.705, 67,3.715, 70,3.71, 72,3.72, 74,3.706, 76,3.715, 78,3.708, 80,3.718, 82,3.712, 84,3.722, 86,3.715, 88,3.708, 90,3.725, 92,3.715, 94,3.72, 96,3.71, 98,3.722, 100,3.715,
  56,3.71, 59,3.702, 61,3.715, 63,3.705, 66,3.712, 68,3.705, 71,3.715, 73,3.708, 75,3.718, 77,3.705, 79,3.712, 81,3.722, 83,3.715, 85,3.708, 87,3.718, 89,3.712, 91,3.72, 93,3.71, 95,3.718, 97,3.725, 99,3.71];
const cYLate = [85,3.72, 86,3.726, 87,3.715, 89,3.722, 90,3.728, 91,3.716, 93,3.722, 94,3.728, 95,3.718, 96,3.724, 97,3.716, 98,3.726, 99,3.72, 100,3.722,
  85,3.714, 86,3.72, 88,3.716, 89,3.726, 90,3.714, 92,3.724, 93,3.714, 94,3.72, 95,3.726, 96,3.716, 97,3.722, 98,3.714, 99,3.726, 100,3.716];

const cDepthEarly = [0,2200, 1,1200, 2,500, 1,-200, 3,1800, 2,-600, 4,900, 5,-800, 6,1500, 7,200, 8,-400, 9,2000, 10,600, 11,-100, 12,1300, 13,-700, 14,300, 15,2300, 16,1000, 17,100, 18,1700, 19,600, 20,1300, 21,2200, 22,900, 23,400, 24,1600, 25,1100, 26,1900, 27,700, 28,1400, 29,2000, 30,1200, 31,1700, 32,2250, 33,1500, 34,1900, 35,2250, 36,1800, 37,2100, 38,1650, 39,2300, 40,2000, 42,2200, 44,1800, 46,2100, 48,2300, 50,1950, 52,2200, 54,2050, 56,2250, 58,2000, 60,2200, 63,2050, 66,2300, 70,2150, 3,300, 5,1600, 8,1100, 10,-200, 12,700, 15,500, 18,1000, 22,1500, 27,1200, 32,1000, 38,1300, 20,800, 25,400,
  0,1000, 1,500, 2,1800, 3,-300, 4,200, 5,1100, 6,-200, 7,800, 8,400, 9,-600, 10,1600, 11,700, 12,100, 13,1000, 14,-300, 15,1200, 16,500, 17,1500, 18,1300, 19,900, 20,1100, 21,600, 22,1200, 23,1700, 24,900, 25,1500, 26,1300, 27,1700, 28,1000, 29,1600, 30,1800, 31,1400, 32,1700, 33,2100, 34,1650, 35,2000, 36,2200, 37,1900, 38,2200, 39,1800, 40,2250, 41,2100, 42,1950, 43,2250, 44,2100, 45,2250, 47,2150, 49,2000, 51,2250, 53,2150, 55,2100, 57,2250, 59,2150, 61,2250, 64,2200, 68,2250, 72,2200, 76,2250];
const cDepthMid = [45,2100, 48,2000, 50,2200, 53,2100, 56,2000, 58,2250, 61,2150, 64,2050, 67,2200, 70,2100, 73,2250, 76,2150, 79,2050, 82,2200, 85,2150, 88,2250, 91,2100, 94,2200, 97,2150, 100,2250, 60,2300,
  46,2250, 49,2150, 51,2050, 54,2250, 57,2200, 59,2100, 62,2250, 65,2200, 68,2100, 71,2250, 74,2200, 77,2250, 80,2150, 83,2250, 86,2200, 89,2150, 92,2250, 95,2200, 98,2250];
const cDepthLate = [76,2200, 78,2150, 80,2250, 82,2100, 84,2300, 86,2200, 88,2150, 90,2250, 92,2200, 94,2300, 95,2150, 97,2250, 99,2200, 100,2150,
  77,2250, 79,2200, 81,2300, 83,2200, 85,2250, 87,2300, 89,2200, 91,2300, 93,2250, 95,2250, 96,2200, 98,2300, 100,2250];

// ---------- layout (chart-area boxes in page pixels: left, top, right, bottom) ----------
const X_COORD = "X coordinate (x10\u2075)";
const Y_COORD = "Y coordinate (x10\u2074)";
const panels = [
  { title: "Pressure", ticks: pressureTicksA, range: [0, 30], sets: [aPressureEarly, aPressureMid, aPressureLate], best: aBest[0], box: [67, 97, 289, 262] },
  { title: "Sz", ticks: stressTicks, range: [0, 2000], sets: [aSzEarly, aSzMid, aSzLate], best: aBest[1], box: [363, 97, 586, 262] },
  { title: "Sx", ticks: stressTicks, range: [0, 2000], sets: [aSxEarly, aSxMid, aSxLate], best: aBest[2], box: [658, 97, 881, 262] },
  { title: "Sy", ticks: stressTicks, range: [0, 2000], sets: [aSyEarly, aSyMid, aSyLate], best: aBest[3], box: [955, 97, 1178, 262] },
  { title: X_COORD, ticks: xCoordTicks, range: [1.79, 1.8], sets: [aXEarly, aXMid, aXLate], best: aBest[4], box: [67, 324, 289, 486] },
  { title: Y_COORD, ticks: yCoordTicks, range: [3.7, 3.8], sets: [aYEarly, aYMid, aYLate], best: aBest[5], box: [363, 324, 586, 486] },
  { title: "Depth", ticks: depthTicksA, range: [-250, 760], sets: [aDepthEarly, aDepthMid, aDepthLate], best: aBest[6], box: [658, 324, 881, 486] },

  { title: "Pressure", ticks: pressureTicksB, range: [-30, 0], sets: [bPressureEarly, bPressureMid, bPressureLate], best: bBest[0], box: [67, 613, 290, 778] },
  { title: "Sz", ticks: stressTicks, range: [0, 2000], sets: [bSzEarly, bSzMid, bSzLate], best: bBest[1], box: [366, 613, 588, 778] },
  { title: "Sx", ticks: stressTicks, range: [0, 2000], sets: [bSxEarly, bSxMid, bSxLate], best: bBest[2], box: [660, 613, 883, 778] },
  { title: "Sy", ticks: stressTicks, range: [0, 2000], sets: [bSyEarly, bSyMid, bSyLate], best: bBest[3], box: [957, 613, 1180, 778] },
  { title: X_COORD, ticks: xCoordTicks, range: [1.79, 1.8], sets: [bXEarly, bXMid, bXLate], best: bBest[4], box: [67, 841, 290, 1003] },
  { title: Y_COORD, ticks: yCoordTicks, range: [3.7, 3.8], sets: [bYEarly, bYMid, bYLate], best: bBest[5], box: [363, 841, 587, 1003] },
  { title: "Depth", ticks: depthTicksBC, range: [-1000, 3000], sets: [bDepthEarly, bDepthMid, bDepthLate], best: bBest[6], box: [660, 841, 883, 1003] },

  { title: "Pressure", ticks: pressureTicksC, range: [-20, 20], sets: [cPressureEarly, cPressureMid, cPressureLate], best: cBest[0], box: [62, 1138, 285, 1300] },
  { title: "Sz", ticks: stressTicks, range: [0, 2000], sets: [cSzEarly, cSzMid, cSzLate], best: cBest[1], box: [358, 1138, 581, 1300] },
  { title: "Sx", ticks: stressTicks, range: [0, 2000], sets: [cSxEarly, cSxMid, cSxLate], best: cBest[2], box: [655, 1138, 877, 1300] },
  { title: "Sy", ticks: stressTicks, range: [0, 2000], sets: [cSyEarly, cSyMid, cSyLate], best: cBest[3], box: [952, 1138, 1174, 1300] },
  { title: X_COORD, ticks: xCoordTicks, range: [1.79, 1.8], sets: [cXEarly, cXMid, cXLate], best: cBest[4], box: [62, 1362, 285, 1524] },
  { title: Y_COORD, ticks: yCoordTicks, range: [3.7, 3.8], sets: [cYEarly, cYMid, cYLate], best: cBest[5], box: [358, 1362, 581, 1524] },
  { title: "Depth", ticks: depthTicksBC, range: [-1000, 3000], sets: [cDepthEarly, cDepthMid, cDepthLate], best: cBest[6], box: [655, 1362, 877, 1524] }
];

// ---------- styles ----------
const FONT = '"Liberation Sans", Arial, sans-serif';
const AXIS_COLOR = "#555";
const SET_COLORS = ["#000000", "#3d3d3d", "#a9a9a9"]; // early, mid, late
const CROSS_COLOR = "#d9252b";
const PAD_L = 62, PAD_T = 32, PAD_R = 24, PAD_B = 30;

// turns [x,y,x,y,...] into point objects
function toXY(flat) {
  const pts = [];
  for (let i = 0; i < flat.length; i += 2) pts.push({ x: flat[i], y: flat[i + 1] });
  return pts;
}

// bold title above the upper-left corner of the axes
const panelTitle = {
  id: "panelTitle",
  afterDraw(chart, args, opts) {
    const { ctx, chartArea } = chart;
    ctx.save();
    ctx.font = "bold 17px " + FONT;
    ctx.fillStyle = "#111";
    ctx.textBaseline = "middle";
    ctx.textAlign = "left";
    ctx.fillText(opts.text, chartArea.left + 1, chartArea.top - 15);
    ctx.restore();
  }
};

// small inward tick marks (matlab look)
const innerTicks = {
  id: "innerTicks",
  afterDraw(chart) {
    const { ctx, chartArea: a, scales } = chart;
    ctx.save();
    ctx.strokeStyle = AXIS_COLOR;
    ctx.lineWidth = 1;
    scales.x.ticks.forEach(t => {
      const px = Math.round(scales.x.getPixelForValue(t.value)) + 0.5;
      ctx.beginPath(); ctx.moveTo(px, a.bottom); ctx.lineTo(px, a.bottom - 4); ctx.stroke();
    });
    scales.y.ticks.forEach(t => {
      const py = Math.round(scales.y.getPixelForValue(t.value)) + 0.5;
      ctx.beginPath(); ctx.moveTo(a.left, py); ctx.lineTo(a.left + 4, py); ctx.stroke();
    });
    ctx.restore();
  }
};

const page = document.getElementById("page");

panels.forEach(p => {
  const [x0, y0, x1, y1] = p.box;
  const w = x1 - x0 + PAD_L + PAD_R;
  const h = y1 - y0 + PAD_T + PAD_B;
  const canvas = document.createElement("canvas");
  canvas.width = w;
  canvas.height = h;
  canvas.style.left = (x0 - PAD_L) + "px";
  canvas.style.top = (y0 - PAD_T) + "px";
  canvas.style.width = w + "px";
  canvas.style.height = h + "px";
  page.appendChild(canvas);

  // first dataset is drawn on top, so: cross, late, mid, early
  const datasets = [{
    data: [{ x: p.best[0], y: p.best[1] }],
    pointStyle: "cross",
    pointRadius: 13,
    borderColor: CROSS_COLOR,
    backgroundColor: CROSS_COLOR,
    borderWidth: 4.5,
    clip: false
  }];
  [2, 1, 0].forEach(k => {
    datasets.push({
      data: toXY(p.sets[k]),
      pointStyle: "circle",
      pointRadius: 2.6,
      borderWidth: 0,
      backgroundColor: SET_COLORS[k],
      clip: false
    });
  });

  new Chart(canvas, {
    type: "scatter",
    data: { datasets: datasets },
    options: {
      responsive: false,
      animation: false,
      events: [],
      layout: { padding: { left: 0, top: PAD_T, right: PAD_R, bottom: 0 } },
      plugins: {
        legend: { display: false },
        tooltip: { enabled: false },
        panelTitle: { text: p.title }
      },
      scales: {
        x: {
          type: "linear",
          min: 0,
          max: 100,
          afterBuildTicks: axis => { axis.ticks = iterTicks.map(v => ({ value: v })); },
          afterFit: s => { s.height = PAD_B; },
          grid: { display: false, drawTicks: false },
          border: { color: AXIS_COLOR, width: 1.5 },
          ticks: { color: "#111", font: { size: 17, family: FONT }, padding: 3, maxRotation: 0, autoSkip: false }
        },
        y: {
          type: "linear",
          min: p.range[0],
          max: p.range[1],
          afterBuildTicks: axis => { axis.ticks = p.ticks.map(v => ({ value: v })); },
          afterFit: s => { s.width = PAD_L; },
          grid: { display: false, drawTicks: false },
          border: { color: AXIS_COLOR, width: 1.5 },
          ticks: {
            color: "#111",
            font: { size: 17, family: FONT },
            padding: 3,
            autoSkip: false,
            callback: v => String(v).replace("-", "\u2212")
          }
        }
      }
    },
    plugins: [panelTitle, innerTicks]
  });
});
</script>
</body>
</html>
